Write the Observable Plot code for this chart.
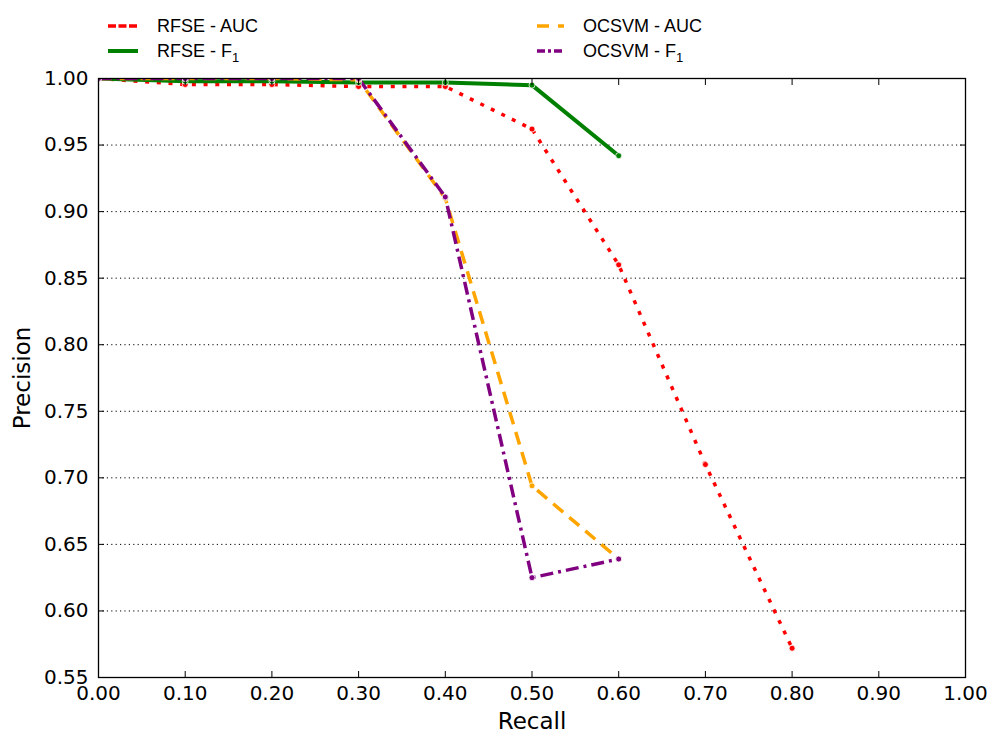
<!DOCTYPE html>
<html>
<head>
<meta charset="utf-8">
<script src="https://cdn.jsdelivr.net/npm/d3@7"></script>
<script src="https://cdn.jsdelivr.net/npm/@observablehq/plot@0.6"></script>
<style>
  body { margin: 0; background: #fff; }
  #wrap { position: relative; width: 992px; height: 734px; }
  .leg { position: absolute; display: flex; align-items: center; font-family: "Liberation Sans", Arial, sans-serif; font-size: 18px; color: #000; height: 22px; }
  .leg svg { margin-right: 19px; }
  .leg sub { font-size: 13px; vertical-align: -5px; line-height: 0; }
</style>
</head>
<body>
<div id="wrap"></div>
<script>
// ---- data ----
const recallRfseAuc = [0.0, 0.1, 0.2, 0.3, 0.4, 0.5, 0.6, 0.7, 0.8];
const rfseAuc       = [1.000, 0.9955, 0.9955, 0.994, 0.994, 0.962, 0.860, 0.710, 0.572];
const recallRfseF1  = [0.0, 0.1, 0.2, 0.3, 0.4, 0.5, 0.6];
const rfseF1        = [1.000, 0.998, 0.998, 0.997, 0.997, 0.995, 0.942];
const recallOcsvm   = [0.0, 0.1, 0.2, 0.3, 0.4, 0.5, 0.6];
const ocsvmAuc      = [1.000, 1.000, 1.000, 0.999, 0.910, 0.694, 0.639];
const ocsvmF1       = [1.000, 1.000, 1.000, 1.000, 0.911, 0.625, 0.639];
const xTicks = [0.0, 0.1, 0.2, 0.3, 0.4, 0.5, 0.6, 0.7, 0.8, 0.9, 1.0];
const yTicks = [0.55, 0.60, 0.65, 0.70, 0.75, 0.80, 0.85, 0.90, 0.95, 1.00];

// ---- series definitions (styles separate from values) ----
const series = [
  {label: "RFSE - AUC", html: "RFSE - AUC", xs: recallRfseAuc, ys: rfseAuc, color: "#ff0000", dash: "4,7.7", width: 3.5, legDash: "8,2.5"},
  {label: "RFSE - F1", html: "RFSE - F<sub>1</sub>", xs: recallRfseF1, ys: rfseF1, color: "#008000", dash: null, width: 4, legDash: null},
  {label: "OCSVM - AUC", html: "OCSVM - AUC", xs: recallOcsvm, ys: ocsvmAuc, color: "#ffa500", dash: "13,8", width: 3.5, legDash: "12,9"},
  {label: "OCSVM - F1", html: "OCSVM - F<sub>1</sub>", xs: recallOcsvm, ys: ocsvmF1, color: "#800080", dash: "13,5,3,5", width: 3.5, legDash: "8,3,3,3"}
];
const tables = series.map(s => s.xs.map((x, i) => ({x, y: s.ys[i]})));

const FONT = "DejaVu Sans, sans-serif";
const fmt = d3.format(".2f");

const marks = [
  Plot.gridY(yTicks.slice(1, -1), {stroke: "black", strokeOpacity: 1, strokeWidth: 1, strokeDasharray: "1.2,3.2"})
];
series.forEach((s, k) => {
  marks.push(Plot.line(tables[k], {x: "x", y: "y", stroke: s.color, strokeWidth: s.width,
    strokeDasharray: s.dash ?? undefined, strokeLinecap: "butt", strokeLinejoin: "round", clip: true}));
});
series.forEach((s, k) => {
  marks.push(Plot.dot(tables[k], {x: "x", y: "y", r: 3, fill: s.color, stroke: "white", strokeWidth: 0.8, clip: true}));
});
marks.push(
  Plot.frame({stroke: "black", strokeWidth: 1.3}),
  Plot.axisX(xTicks, {anchor: "bottom", tickSize: -6, text: null, label: null}),
  Plot.axisX(xTicks, {anchor: "top", tickSize: -6, text: null, label: null}),
  Plot.axisY(yTicks, {anchor: "left", tickSize: -6, text: null, label: null}),
  Plot.axisY(yTicks, {anchor: "right", tickSize: -6, text: null, label: null}),
  Plot.axisX(xTicks, {anchor: "bottom", tickSize: 0, tickPadding: 8, tickFormat: fmt, fontSize: 20, label: null}),
  Plot.axisY(yTicks, {anchor: "left", tickSize: 0, tickPadding: 10, tickFormat: fmt, fontSize: 20, label: null}),
  Plot.text(["Recall"], {text: d => d, frameAnchor: "bottom", dy: 44, lineAnchor: "middle", textAnchor: "middle", fontSize: 23}),
  Plot.text(["Precision"], {text: d => d, frameAnchor: "left", dx: -76, rotate: -90, lineAnchor: "middle", textAnchor: "middle", fontSize: 23})
);

const chart = Plot.plot({
  width: 992,
  height: 734,
  marginTop: 78,
  marginBottom: 57,
  marginLeft: 98,
  marginRight: 27,
  style: {fontFamily: FONT, fontSize: "20px", color: "black", background: "white"},
  x: {domain: [0, 1]},
  y: {domain: [0.55, 1]},
  marks
});
const wrap = document.getElementById("wrap");
wrap.appendChild(chart);

// ---- legend (HTML, above plot area) ----
const legPos = [
  {left: 108, top: 15, textLeft: 157},
  {left: 108, top: 40, textLeft: 157},
  {left: 537, top: 15, textLeft: 583},
  {left: 537, top: 40, textLeft: 583}
];
series.forEach((s, k) => {
  const p = legPos[k];
  const d = document.createElement("div");
  d.className = "leg";
  d.style.left = p.left + "px";
  d.style.top = p.top + "px";
  const sw = p.textLeft - p.left - 19;
  d.innerHTML = `<svg width="${sw}" height="10"><line x1="0" x2="${sw}" y1="5" y2="5" stroke="${s.color}" stroke-width="${s.width}" ${s.legDash ? `stroke-dasharray="${s.legDash}"` : ""}/></svg><span>${s.html}</span>`;
  wrap.appendChild(d);
});
</script>
</body>
</html>
